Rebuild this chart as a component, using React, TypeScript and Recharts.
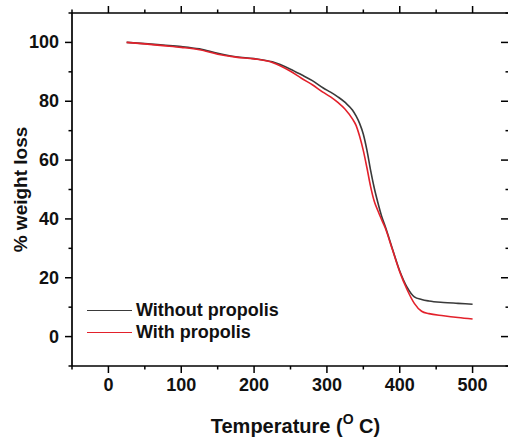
import { LineChart, Line, XAxis, YAxis } from 'recharts';

const temperatures = [25, 50, 75, 100, 125, 150, 175, 200, 225, 250, 265, 280, 295, 305, 315, 325, 335, 340, 345, 350, 355, 360, 365, 370, 375, 380, 390, 400, 410, 420, 430, 440, 460, 480, 500];
const withoutPropolis = [100, 99.6, 99.1, 98.6, 97.8, 96.3, 95.1, 94.5, 93.4, 90.9, 89.0, 87.0, 84.5, 83.1, 81.5, 79.6, 77.0, 75.0, 72.4, 68.8, 63.3, 56.5, 50.5, 45.5, 41.0, 37.5, 29.8, 22.3, 16.8, 13.5, 12.6, 12.1, 11.6, 11.3, 11.0];
const withPropolis = [100, 99.5, 98.9, 98.3, 97.5, 96.0, 95.0, 94.4, 93.2, 90.2, 87.8, 85.6, 83.0, 81.5, 79.6, 77.3, 74.0, 71.8, 68.0, 63.2, 57.3, 51.0, 46.0, 42.8, 39.8, 37.0, 29.5, 22.0, 16.0, 11.3, 8.6, 7.8, 7.1, 6.5, 6.0];

const xTicks = [-50, 0, 50, 100, 150, 200, 250, 300, 350, 400, 450, 500, 550];
const xLabels = [0, 100, 200, 300, 400, 500];
const yTicks = [-10, 0, 10, 20, 30, 40, 50, 60, 70, 80, 90, 100, 110];
const yLabels = [0, 20, 40, 60, 80, 100];

const seriesNames = ['Without propolis', 'With propolis'];
const seriesColors = ['#3a3a3a', '#e3212b'];

const data = temperatures.map((t, i) => ({ t, without: withoutPropolis[i], with: withPropolis[i] }));

const FONT = '"Liberation Sans", Arial, sans-serif';
const MAJOR = 7;
const MINOR = 3.5;

function BottomTick({ x, y, payload }: any) {
  const v = payload.value;
  const major = xLabels.includes(v);
  return (
    <g>
      <line x1={x} x2={x} y1={y} y2={y + (major ? MAJOR : MINOR)} stroke="#000" strokeWidth={1.5} />
      {major && (
        <text x={x} y={y + 19} textAnchor="middle" dominantBaseline="central"
          fontFamily={FONT} fontWeight="bold" fontSize={18} fill="#111">{v}</text>
      )}
    </g>
  );
}

function TopTick({ x, y, payload }: any) {
  const major = xLabels.includes(payload.value);
  return <line x1={x} x2={x} y1={y} y2={y - (major ? MAJOR : MINOR)} stroke="#000" strokeWidth={1.5} />;
}

function LeftTick({ x, y, payload }: any) {
  const v = payload.value;
  const major = yLabels.includes(v);
  return (
    <g>
      <line x1={x} x2={x - (major ? MAJOR : MINOR)} y1={y} y2={y} stroke="#000" strokeWidth={1.5} />
      {major && (
        <text x={x - 13} y={y} textAnchor="end" dominantBaseline="central"
          fontFamily={FONT} fontWeight="bold" fontSize={18} fill="#111">{v}</text>
      )}
    </g>
  );
}

function RightTick({ x, y, payload }: any) {
  const major = yLabels.includes(payload.value);
  return <line x1={x} x2={x - (major ? MAJOR + 1 : MINOR)} y1={y} y2={y} stroke="#000" strokeWidth={1.5} />;
}

function XTitle({ viewBox }: any) {
  const cx = viewBox.x + viewBox.width / 2 + 5;
  return (
    <text x={cx} y={426} textAnchor="middle" dominantBaseline="central"
      fontFamily={FONT} fontWeight="bold" fontSize={20} fill="#111">
      Temperature (<tspan fontSize={14} dy={-7}>O</tspan><tspan dy={7}> C)</tspan>
    </text>
  );
}

function YTitle({ viewBox }: any) {
  const cy = viewBox.y + viewBox.height / 2;
  return (
    <text x={20} y={cy} textAnchor="middle" dominantBaseline="central" transform={`rotate(-90 20 ${cy})`}
      fontFamily={FONT} fontWeight="bold" fontSize={19} fill="#111">
      % weight loss
    </text>
  );
}

export default function App() {
  const axisLine = { stroke: '#000', strokeWidth: 1.7 };
  return (
    <div style={{ position: 'absolute', left: 0, top: 0, width: 508, height: 438, overflow: 'hidden', background: '#fff' }}>
      <LineChart width={520} height={438} data={data} margin={{ top: 0, right: 0, bottom: 0, left: 0 }}>
        <XAxis dataKey="t" type="number" domain={[-50, 550]} ticks={xTicks} interval={0} allowDataOverflow
          height={72} tickSize={0} tickMargin={0} tickLine={false} axisLine={axisLine}
          tick={<BottomTick />} label={{ content: <XTitle /> }} />
        <XAxis xAxisId="top" orientation="top" dataKey="t" type="number" domain={[-50, 550]} ticks={xTicks} interval={0}
          allowDataOverflow height={13} tickSize={0} tickMargin={0} tickLine={false} axisLine={axisLine} tick={<TopTick />} />
        <YAxis type="number" domain={[-10, 110]} ticks={yTicks} interval={0} allowDataOverflow width={72}
          tickSize={0} tickMargin={0} tickLine={false} axisLine={axisLine} tick={<LeftTick />}
          label={{ content: <YTitle /> }} />
        <YAxis yAxisId="right" orientation="right" type="number" domain={[-10, 110]} ticks={yTicks} interval={0}
          allowDataOverflow width={11} tickSize={0} tickMargin={0} tickLine={false} axisLine={axisLine} tick={<RightTick />} />
        <Line dataKey="without" name={seriesNames[0]} type="monotone" stroke={seriesColors[0]} strokeWidth={1.6}
          dot={false} isAnimationActive={false} />
        <Line dataKey="with" name={seriesNames[1]} type="monotone" stroke={seriesColors[1]} strokeWidth={1.6}
          dot={false} isAnimationActive={false} />
      </LineChart>
      <div style={{ position: 'absolute', left: 87, top: 300, fontFamily: FONT, fontWeight: 'bold', fontSize: 18, color: '#111' }}>
        {seriesNames.map((n, i) => (
          <div key={n} style={{ display: 'flex', alignItems: 'center', height: 21.6 }}>
            <span style={{ display: 'inline-block', width: 45, height: 0, borderTop: `1.6px solid ${seriesColors[i]}`, marginRight: 4 }} />
            <span>{n}</span>
          </div>
        ))}
      </div>
    </div>
  );
}
